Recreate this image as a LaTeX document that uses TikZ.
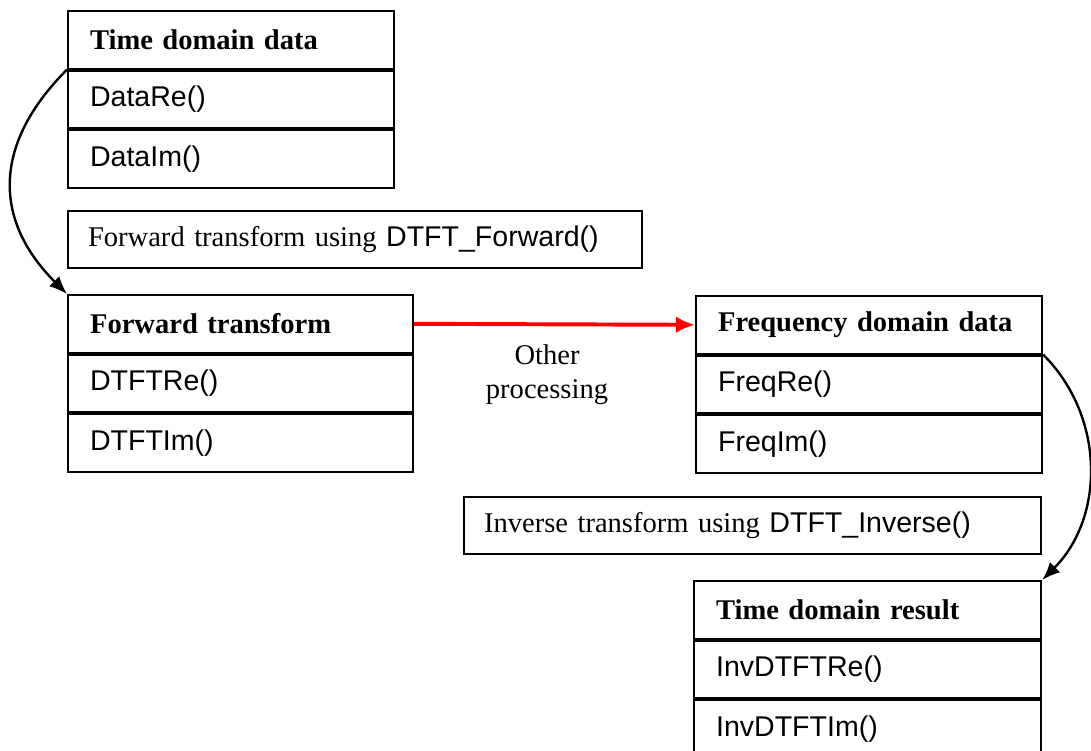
\documentclass[tikz,border=0pt]{standalone}
\usepackage{fontspec}
\setmainfont{Liberation Serif}
\setsansfont{Liberation Sans}
\usetikzlibrary{arrows.meta}
\tikzset{
  cell/.style={draw,line width=1.5pt,anchor=north west,minimum height=1.4375cm,
    inner xsep=0.55cm,inner ysep=0pt,text width=#1,align=left},
  note/.style={draw,line width=1.5pt,anchor=north west,minimum height=1.425cm,
    inner xsep=0.5cm,inner ysep=0pt,text width=#1,align=left},
  flow/.style={-{Latex[length=0.45cm,width=0.36cm]},line width=1.7pt},
}
\newcommand{\fn}[1]{\textsf{#1}}
\begin{document}
\begin{tikzpicture}[x=0.025cm,y=-0.025cm,font=\fontsize{20.3}{24}\selectfont]
\clip (0,0) rectangle (1091,750);
\node[cell=7.05cm] (td) at (67,10) {\textbf{Time domain data}};
\node[cell=7.05cm] (tdre) at (td.south west) {\fn{DataRe()}};
\node[cell=7.05cm] (tdim) at (tdre.south west) {\fn{DataIm()}};
\node[note=13.35cm] (fwdnote) at (67,210) {Forward transform using \fn{DTFT\_Forward()}};
\node[cell=7.525cm] (fwd) at (67,294) {\textbf{Forward transform}};
\node[cell=7.525cm] (fwdre) at (fwd.south west) {\fn{DTFTRe()}};
\node[cell=7.525cm] (fwdim) at (fwdre.south west) {\fn{DTFTIm()}};
\node[cell=7.55cm] (freq) at (695,295) {\textbf{Frequency domain data}};
\node[cell=7.55cm] (freqre) at (freq.south west) {\fn{FreqRe()}};
\node[cell=7.55cm] (freqim) at (freqre.south west) {\fn{FreqIm()}};
\node[note=13.425cm] (invnote) at (463,496) {Inverse transform using \fn{DTFT\_Inverse()}};
\node[cell=7.575cm] (inv) at (693,580) {\textbf{Time domain result}};
\node[cell=7.575cm] (invre) at (inv.south west) {\fn{InvDTFTRe()}};
\node[cell=7.575cm] (invim) at (invre.south west) {\fn{InvDTFTIm()}};
\node[align=center] (other) at (547,375) {Other\\processing};
\draw[red,line width=2.8pt,-{Latex[length=0.48cm,width=0.42cm]}] (fwd.east) -- (freq.west);
\draw[flow] (td.south west) to[out=225,in=135,looseness=1.2] (fwd.north west);
\draw[flow] (freq.south east) to[out=-45,in=45] (inv.north east);
\end{tikzpicture}
\end{document}
